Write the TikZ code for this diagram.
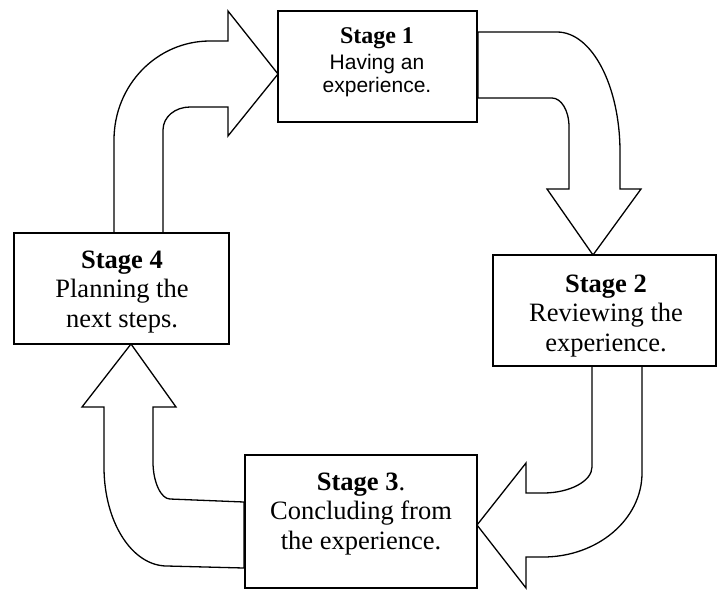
\documentclass[tikz,border=0pt]{standalone}
\usepackage{fontspec}
\setmainfont{Liberation Serif}
\setsansfont{Liberation Sans}
\begin{document}
\begin{tikzpicture}[x=1pt,y=-1pt,
  stagebox/.style={draw=black, line width=1.8pt, fill=white, rectangle, inner sep=0pt},
  blockarrow/.style={draw=black, line width=1.3pt, fill=white, line join=miter},
  stagetext/.style={anchor=north, inner sep=0pt, align=center,
    font=\fontsize{26.5}{29.5}\selectfont},
  firsttext/.style={anchor=north, inner sep=0pt, align=center,
    font=\fontsize{21}{23}\selectfont}]
\useasboundingbox (0,0) rectangle (717,590);

% block arrow from stage 4 up and round to stage 1
\draw[blockarrow] (114,233) -- (114,140) .. controls (114,85) and (157,41) .. (210,41)
  -- (228,41) -- (228,11) -- (278,74) -- (228,136) -- (228,107) -- (190,107)
  .. controls (175,107) and (163,117) .. (163,130) -- (163,233) -- cycle;

% block arrow from stage 1 down to stage 2
\draw[blockarrow] (478,32) -- (557,32) .. controls (592,32) and (620,86) .. (620,152)
  -- (620,189) -- (641,189) -- (593,255) -- (547,189) -- (569,189) -- (569,127)
  .. controls (569,110) and (561,98) .. (552,98) -- (478,98) -- cycle;

% block arrow from stage 2 round to stage 3
\draw[blockarrow] (592,366) -- (592,467) .. controls (592,481) and (570,493) .. (543,493)
  -- (526,493) -- (526,463) -- (477,525) -- (526,588) -- (526,557) -- (543,557)
  .. controls (598,557) and (642,519) .. (642,473) -- (642,366) -- cycle;

% block arrow from stage 3 round and up to stage 4
\draw[blockarrow] (244,568) -- (167,566) .. controls (132,566) and (104,522) .. (104,467)
  -- (104,407) -- (82,407) -- (131,344) -- (176,407) -- (153,407) -- (153,462)
  .. controls (153,482) and (161,499) .. (170,499) -- (244,502) -- cycle;

% the four stage boxes
\node[stagebox, minimum width=199pt, minimum height=111pt] (s1) at (377.5,66.5) {};
\node[stagebox, minimum width=223pt, minimum height=111pt] (s2) at (604.5,310.5) {};
\node[stagebox, minimum width=232pt, minimum height=133pt] (s3) at (361,521.5) {};
\node[stagebox, minimum width=215pt, minimum height=111pt] (s4) at (121.5,288.5) {};

% their texts
\node[firsttext] (t1) at (377,27.7)
  {{\fontsize{24}{26}\selectfont\bfseries Stage 1}\\[3pt]
   {\sffamily Having an}\\ {\sffamily experience.}};
\node[stagetext] (t2) at (606,274.3)
  {\textbf{Stage 2}\\ Reviewing the\\ experience.};
\node[stagetext] (t3) at (361,472.3)
  {\textbf{Stage 3}.\\ Concluding from\\ the experience.};
\node[stagetext] (t4) at (122,250.3)
  {\textbf{Stage 4}\\ Planning the\\ next steps.};
\end{tikzpicture}
\end{document}
